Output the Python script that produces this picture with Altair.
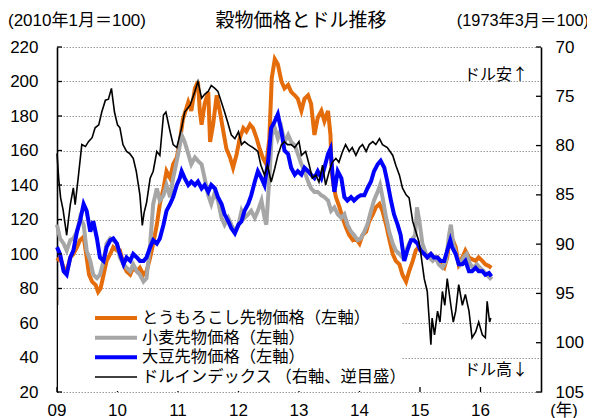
import altair as alt
import pandas as pd

# ---------------- data ----------------
usd_t = [2009.00, 2009.03, 2009.06, 2009.10, 2009.16, 2009.19, 2009.22, 2009.27, 2009.30, 2009.35,
         2009.41, 2009.47, 2009.52, 2009.58, 2009.63, 2009.69, 2009.74, 2009.80, 2009.85, 2009.90,
         2009.95, 2010.00, 2010.04, 2010.09, 2010.15, 2010.20, 2010.26, 2010.31, 2010.37, 2010.41,
         2010.44, 2010.48, 2010.54, 2010.59, 2010.65, 2010.70, 2010.76, 2010.80, 2010.87, 2010.92,
         2010.98, 2011.06, 2011.11, 2011.20, 2011.28, 2011.33, 2011.39, 2011.44, 2011.50, 2011.55,
         2011.61, 2011.66, 2011.77, 2011.82, 2011.88, 2011.94, 2012.00, 2012.05, 2012.10, 2012.16,
         2012.24, 2012.32, 2012.37, 2012.43, 2012.48, 2012.54, 2012.60, 2012.65, 2012.71, 2012.76,
         2012.81, 2012.87, 2012.93, 2013.00, 2013.04, 2013.11, 2013.17, 2013.22, 2013.28, 2013.33,
         2013.39, 2013.44, 2013.50, 2013.55, 2013.61, 2013.66, 2013.72, 2013.77, 2013.83, 2013.88,
         2013.94, 2014.00, 2014.05, 2014.11, 2014.16, 2014.22, 2014.27, 2014.33, 2014.38, 2014.46,
         2014.55, 2014.60, 2014.66, 2014.71, 2014.77, 2014.82, 2014.88, 2014.93, 2014.98, 2015.01,
         2015.07, 2015.12, 2015.18, 2015.20, 2015.24, 2015.29, 2015.33, 2015.37, 2015.41, 2015.45,
         2015.51, 2015.55, 2015.59, 2015.64, 2015.70, 2015.75, 2015.81, 2015.86, 2015.92, 2015.97,
         2016.03, 2016.08, 2016.11, 2016.15, 2016.17]
usd_v = [80.8, 83.5, 85.3, 86.5, 89.1, 87.5, 86.0, 84.3, 86.0, 83.3,
         79.9, 80.1, 79.6, 79.2, 78.2, 77.9, 76.6, 75.4, 75.3, 74.2,
         76.6, 77.9, 78.2, 79.9, 80.6, 80.8, 81.3, 82.6, 85.0, 88.1,
         86.8, 85.8, 83.3, 82.6, 80.6, 81.0, 76.9, 76.6, 78.6, 79.9,
         80.2, 78.2, 76.6, 75.9, 74.5, 73.5, 75.2, 74.8, 74.5, 73.9,
         74.2, 74.5, 76.6, 77.6, 78.9, 79.3, 78.6, 79.9, 79.6, 79.9,
         80.2, 80.6, 82.0, 83.0, 82.0, 83.7, 82.3, 81.0, 79.9, 79.6,
         79.9, 79.9, 80.2, 79.6, 81.0, 80.6, 82.0, 83.3, 83.0, 83.7,
         82.0, 84.0, 82.6, 81.7, 81.3, 81.7, 80.6, 79.9, 80.6, 80.2,
         81.0, 80.2, 79.9, 80.6, 79.9, 79.6, 79.9, 79.3, 79.9, 80.2,
         81.0, 82.0, 83.0, 84.3, 85.0, 85.3, 87.7, 88.7, 89.7, 90.8,
         93.5, 94.8, 100.2, 97.5, 99.2, 96.8, 97.9, 94.8, 96.2, 93.5,
         96.2, 97.9, 96.8, 94.1, 96.2, 95.1, 96.8, 99.5, 98.9, 97.9,
         99.2, 99.5, 95.8, 97.9, 97.5]

corn_t = [2009.00, 2009.05, 2009.11, 2009.16, 2009.22, 2009.27, 2009.33, 2009.38, 2009.44, 2009.49,
          2009.53, 2009.58, 2009.64, 2009.68, 2009.72, 2009.77, 2009.82, 2009.88, 2009.93, 2009.99,
          2010.04, 2010.10, 2010.15, 2010.21, 2010.26, 2010.32, 2010.37, 2010.43, 2010.48, 2010.54,
          2010.59, 2010.65, 2010.70, 2010.76, 2010.81, 2010.87, 2010.92, 2010.98, 2011.03, 2011.08,
          2011.17, 2011.22, 2011.28, 2011.33, 2011.36, 2011.39, 2011.44, 2011.50, 2011.53, 2011.58,
          2011.64, 2011.69, 2011.74, 2011.80, 2011.86, 2011.91, 2011.97, 2012.02, 2012.08, 2012.13,
          2012.19, 2012.24, 2012.30, 2012.35, 2012.40, 2012.46, 2012.51, 2012.55, 2012.60, 2012.65,
          2012.71, 2012.76, 2012.82, 2012.87, 2012.93, 2012.98, 2013.04, 2013.09, 2013.15, 2013.20,
          2013.255, 2013.31, 2013.37, 2013.42, 2013.48, 2013.52, 2013.54, 2013.57, 2013.61, 2013.67,
          2013.72, 2013.78, 2013.83, 2013.89, 2013.94, 2014.00, 2014.05, 2014.11, 2014.16, 2014.22,
          2014.27, 2014.33, 2014.38, 2014.44, 2014.49, 2014.55, 2014.60, 2014.66, 2014.71, 2014.77,
          2014.82, 2014.88, 2014.93, 2014.98, 2015.01, 2015.07, 2015.12, 2015.18, 2015.23, 2015.29,
          2015.34, 2015.40, 2015.45, 2015.50, 2015.53, 2015.59, 2015.64, 2015.70, 2015.75, 2015.81,
          2015.86, 2015.92, 2015.97, 2016.03, 2016.08, 2016.14, 2016.18]
corn_v = [96, 98, 92, 90, 98, 100, 104, 108, 110, 98,
          88, 84, 82, 78, 80, 88, 96, 100, 104, 102,
          102, 94, 90, 88, 92, 90, 92, 88, 90, 98,
          106, 117, 129, 138, 148, 144, 152, 156, 165, 178,
          188, 183, 196, 200, 183, 175, 187, 194, 165, 175,
          192, 183, 173, 161, 156, 150, 158, 167, 173, 171,
          175, 173, 167, 161, 156, 152, 167, 202, 213, 210,
          200, 196, 198, 194, 192, 190, 183, 190, 192, 187,
          169, 179, 183, 177, 183, 169, 148, 140, 133, 127,
          121, 115, 111, 108, 109, 106, 111, 113, 119, 123,
          127, 129, 125, 117, 109, 100, 96, 94, 88, 84,
          90, 96, 102, 104, 102, 100, 98, 100, 98, 98,
          94, 92, 98, 111, 109, 104, 94, 98, 102, 98,
          97, 96, 98, 96, 94, 93, 92]

wheat_t = [2009.00, 2009.05, 2009.11, 2009.16, 2009.22, 2009.27, 2009.33, 2009.38, 2009.44, 2009.49,
           2009.55, 2009.60, 2009.66, 2009.71, 2009.77, 2009.82, 2009.88, 2009.93, 2009.99, 2010.04,
           2010.10, 2010.15, 2010.21, 2010.26, 2010.32, 2010.37, 2010.43, 2010.48, 2010.54, 2010.59,
           2010.65, 2010.70, 2010.76, 2010.81, 2010.87, 2010.92, 2010.98, 2011.03, 2011.06, 2011.11,
           2011.17, 2011.22, 2011.28, 2011.33, 2011.39, 2011.44, 2011.50, 2011.55, 2011.61, 2011.66,
           2011.72, 2011.77, 2011.83, 2011.88, 2011.94, 2012.00, 2012.05, 2012.10, 2012.16, 2012.21,
           2012.27, 2012.32, 2012.38, 2012.43, 2012.46, 2012.51, 2012.55, 2012.60, 2012.65, 2012.71,
           2012.76, 2012.82, 2012.87, 2012.93, 2012.98, 2013.04, 2013.09, 2013.15, 2013.20, 2013.255,
           2013.31, 2013.37, 2013.42, 2013.48, 2013.53, 2013.585, 2013.64, 2013.70, 2013.75, 2013.80,
           2013.86, 2013.91, 2013.97, 2014.02, 2014.08, 2014.13, 2014.19, 2014.24, 2014.30, 2014.34,
           2014.38, 2014.44, 2014.49, 2014.55, 2014.60, 2014.66, 2014.71, 2014.77, 2014.82, 2014.88,
           2014.92, 2014.95, 2014.99, 2015.04, 2015.10, 2015.15, 2015.21, 2015.26, 2015.31, 2015.37,
           2015.43, 2015.48, 2015.51, 2015.55, 2015.61, 2015.66, 2015.72, 2015.77, 2015.83, 2015.88,
           2015.94, 2015.99, 2016.05, 2016.10, 2016.16, 2016.19]
wheat_v = [117, 109, 106, 102, 108, 109, 113, 121, 117, 102,
           96, 88, 86, 88, 96, 106, 109, 108, 106, 98,
           94, 92, 90, 94, 90, 88, 84, 86, 106, 129,
           138, 131, 134, 140, 133, 144, 154, 163, 169, 165,
           158, 152, 156, 154, 152, 144, 134, 129, 136, 131,
           121, 117, 121, 117, 113, 117, 125, 121, 123, 125,
           121, 125, 131, 121, 117, 144, 169, 173, 167, 173,
           165, 169, 165, 163, 158, 152, 148, 142, 138, 136,
           136, 134, 133, 131, 125, 127, 123, 121, 123, 117,
           113, 111, 108, 109, 113, 117, 125, 131, 136, 140,
           133, 121, 113, 106, 102, 100, 98, 102, 106, 109,
           111, 127, 119, 106, 100, 98, 96, 98, 94, 92,
           96, 111, 117, 106, 98, 94, 98, 100, 94, 92,
           94, 92, 90, 88, 86, 87]

soy_t = [2009.00, 2009.05, 2009.11, 2009.16, 2009.22, 2009.27, 2009.33, 2009.38, 2009.44, 2009.49,
         2009.55, 2009.60, 2009.66, 2009.71, 2009.77, 2009.82, 2009.88, 2009.93, 2009.99, 2010.04,
         2010.10, 2010.15, 2010.21, 2010.26, 2010.32, 2010.37, 2010.43, 2010.48, 2010.54, 2010.59,
         2010.65, 2010.70, 2010.76, 2010.81, 2010.87, 2010.92, 2010.98, 2011.03, 2011.06, 2011.11,
         2011.17, 2011.22, 2011.28, 2011.33, 2011.39, 2011.44, 2011.50, 2011.55, 2011.61, 2011.66,
         2011.72, 2011.77, 2011.83, 2011.88, 2011.94, 2012.00, 2012.05, 2012.10, 2012.16, 2012.21,
         2012.27, 2012.32, 2012.38, 2012.43, 2012.49, 2012.54, 2012.60, 2012.65, 2012.71, 2012.76,
         2012.82, 2012.87, 2012.93, 2012.98, 2013.04, 2013.09, 2013.15, 2013.20, 2013.255, 2013.31,
         2013.37, 2013.42, 2013.48, 2013.52, 2013.56, 2013.585, 2013.64, 2013.70, 2013.75, 2013.80,
         2013.86, 2013.91, 2013.97, 2014.02, 2014.08, 2014.13, 2014.19, 2014.24, 2014.30, 2014.35,
         2014.41, 2014.46, 2014.52, 2014.57, 2014.63, 2014.68, 2014.74, 2014.79, 2014.85, 2014.90,
         2014.96, 2015.01, 2015.07, 2015.12, 2015.18, 2015.23, 2015.29, 2015.34, 2015.40, 2015.45,
         2015.50, 2015.53, 2015.59, 2015.64, 2015.70, 2015.75, 2015.81, 2015.86, 2015.92, 2015.97,
         2016.03, 2016.08, 2016.14, 2016.18]
soy_v = [104, 100, 90, 88, 98, 102, 113, 119, 129, 125,
         113, 119, 109, 98, 96, 104, 108, 109, 106, 100,
         94, 98, 96, 100, 98, 96, 96, 98, 104, 108,
         106, 109, 117, 125, 129, 133, 140, 144, 148, 144,
         140, 142, 140, 142, 138, 140, 136, 140, 138, 133,
         129, 123, 119, 115, 112, 117, 119, 125, 129, 134,
         142, 148, 144, 140, 154, 173, 177, 181, 171, 160,
         158, 150, 146, 148, 146, 150, 148, 146, 144, 148,
         144, 150, 158, 161, 144, 136, 148, 144, 133, 131,
         133, 131, 133, 134, 134, 138, 142, 148, 152, 154,
         150, 142, 131, 123, 117, 111, 96, 102, 108, 108,
         106, 102, 100, 98, 100, 98, 98, 96, 96, 102,
         108, 104, 100, 94, 94, 96, 90, 90, 92, 90,
         90, 88, 89, 87]

left_ticks = [20, 40, 60, 80, 100, 120, 140, 160, 180, 200, 220]
right_ticks = [70, 75, 80, 85, 90, 95, 100, 105]
year_ticks = [2009, 2010, 2011, 2012, 2013, 2014, 2015, 2016]
year_labels = ["09", "10", "11", "12", "13", "14", "15", "16"]

legend_labels = ["とうもろこし先物価格（左軸）", "小麦先物価格（左軸）",
                 "大豆先物価格（左軸）", "ドルインデックス （右軸、逆目盛）"]
legend_colors = ["#E46C0A", "#A6A6A6", "#0000FF", "#000000"]
legend_widths = [4, 4, 4, 1.6]

title_text = "穀物価格とドル推移"
left_unit = "(2010年1月＝100)"
right_unit = "(1973年3月＝100)"
year_unit = "(年)"
note_up = "ドル安↑"
note_down = "ドル高↓"

# ---------------- layout ----------------
W, H = 484, 345
LAT = "Liberation Sans, Noto Sans CJK JP"
JP = "Noto Sans CJK JP"

xscale = alt.Scale(domain=[2009, 2017], nice=False, zero=False)
lscale = alt.Scale(domain=[20, 220], nice=False, zero=False)
rscale = alt.Scale(domain=[70, 105], nice=False, zero=False, reverse=True)

x_axis = alt.Axis(values=year_ticks, labels=False, title=None, grid=True,
                  gridColor="#9a9a9a", gridDash=[1.5, 1.5],
                  ticks=False, tickSize=0, domainColor="black", domainWidth=1.6)
l_axis = alt.Axis(orient="left", values=left_ticks, title=None, grid=True,
                  gridColor="#9a9a9a", gridDash=[1.5, 1.5], ticks=False, tickSize=0,
                  domainColor="black", domainWidth=1.6, labelFont=LAT, labelFontSize=17,
                  labelColor="black", labelPadding=19)
r_axis = alt.Axis(orient="right", values=right_ticks, title=None, grid=False,
                  ticks=False, tickSize=0, domainColor="black", domainWidth=1.6,
                  labelFont=LAT, labelFontSize=17, labelColor="black", labelPadding=14)

def series(t, v):
    return pd.DataFrame({"t": t, "v": v})

corn = alt.Chart(series(corn_t, corn_v)).mark_line(color="#E46C0A", strokeWidth=4).encode(
    x=alt.X("t:Q", scale=xscale, axis=x_axis),
    y=alt.Y("v:Q", scale=lscale, axis=l_axis))
wheat = alt.Chart(series(wheat_t, wheat_v)).mark_line(color="#A6A6A6", strokeWidth=4).encode(
    x=alt.X("t:Q", scale=xscale, axis=None),
    y=alt.Y("v:Q", scale=lscale, axis=None))
soy = alt.Chart(series(soy_t, soy_v)).mark_line(color="#0000FF", strokeWidth=4).encode(
    x=alt.X("t:Q", scale=xscale, axis=None),
    y=alt.Y("v:Q", scale=lscale, axis=None))
usd = alt.Chart(series(usd_t, usd_v)).mark_line(color="black", strokeWidth=1.6).encode(
    x=alt.X("t:Q", scale=xscale, axis=None),
    y=alt.Y("v:Q", scale=rscale, axis=r_axis))

# inward tick marks
lt = alt.Chart(pd.DataFrame({"v": left_ticks})).mark_rule(color="black", strokeWidth=1.3).encode(
    y=alt.Y("v:Q", scale=lscale, axis=None), x=alt.value(0), x2=alt.value(5))
rt = alt.Chart(pd.DataFrame({"v": right_ticks})).mark_rule(color="black", strokeWidth=1.3).encode(
    y=alt.Y("v:Q", scale=rscale, axis=None), x=alt.value(W - 5), x2=alt.value(W))
bt = alt.Chart(pd.DataFrame({"v": year_ticks})).mark_rule(color="black", strokeWidth=1.3).encode(
    x=alt.X("v:Q", scale=xscale, axis=None), y=alt.value(H - 5), y2=alt.value(H))

# x-axis labels (two-digit years)
xl = alt.Chart(pd.DataFrame({"v": year_ticks, "s": year_labels})).mark_text(
    baseline="middle", align="center", font=LAT, fontSize=17, color="black").encode(
    x=alt.X("v:Q", scale=xscale, axis=None), y=alt.value(H + 19), text="s:N")

# legend box and entries
leg_bg = alt.Chart(pd.DataFrame({"a": [0]})).mark_rect(color="white").encode(
    x=alt.value(1), x2=alt.value(345), y=alt.value(258), y2=alt.value(H - 1))
leg_df = pd.DataFrame({"row": [0, 1, 2, 3], "label": legend_labels,
                       "color": legend_colors, "w": legend_widths})
rowscale = alt.Scale(domain=[0, 3], range=[271, 330])
leg_lines = alt.Chart(leg_df).mark_rule().encode(
    x=alt.value(38), x2=alt.value(80),
    y=alt.Y("row:Q", scale=rowscale, axis=None),
    color=alt.Color("color:N", scale=None),
    strokeWidth=alt.StrokeWidth("w:Q", scale=None))
leg_text = alt.Chart(leg_df).mark_text(align="left", baseline="middle", font=JP,
                                       fontSize=16.3, color="black").encode(
    x=alt.value(85), y=alt.Y("row:Q", scale=rowscale, axis=None), text="label:N")

# headers and notes
def label(txt, x, y, size, align="center", font=JP):
    return alt.Chart(pd.DataFrame({"s": [txt]})).mark_text(
        align=align, baseline="middle", font=font, fontSize=size, color="black").encode(
        x=alt.value(x), y=alt.value(y), text="s:N")

title = label(title_text, 244, -26, 19)
lunit = label(left_unit, -49, -26, 17, align="left", font=LAT)
runit = label(right_unit, 532, -26, 16.3, align="right", font=LAT)
yunit = label(year_unit, 507, H + 19, 16.5, font=LAT)
up = label(note_up, 471, 28, 16, align="right")
down = label(note_down, 471, 323, 16, align="right")

chart = alt.layer(
    corn, wheat, soy, usd, lt, rt, bt, xl, leg_bg, leg_lines, leg_text,
    title, lunit, runit, yunit, up, down
).resolve_scale(y="independent").properties(
    width=W, height=H,
    autosize=alt.AutoSizeParams(type="none"),
    padding={"left": 49, "top": 39, "right": 46, "bottom": 30},
).configure_view(stroke=None)

chart.save("out.html", embed_options={"renderer": "svg", "actions": False})
